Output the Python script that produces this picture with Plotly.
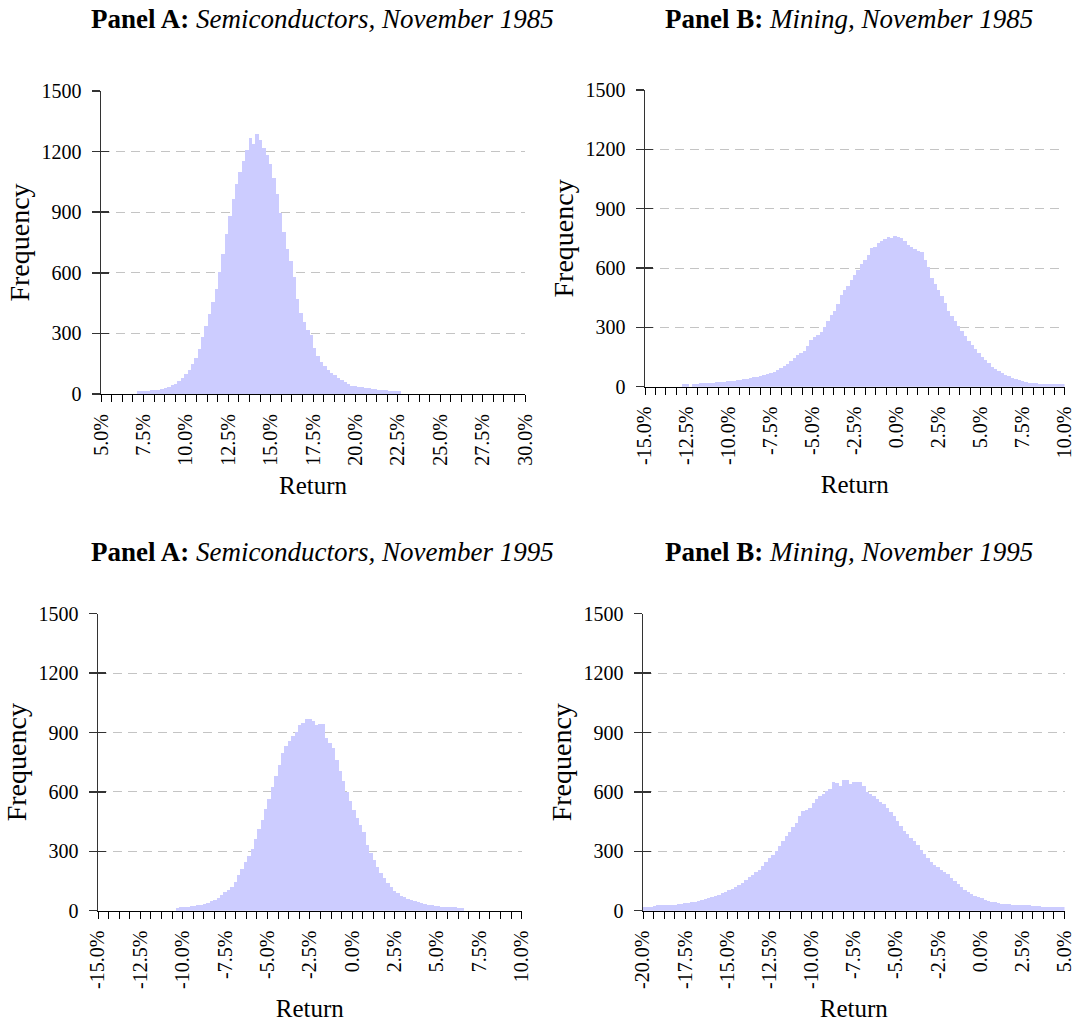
import plotly.graph_objects as go

# ---------------- data ----------------
BIN_WIDTH = 0.2  # return bin width, in %

# Panel A, Semiconductors, November 1985 : first bin left edge and counts
semi85_start = 7.1
semi85_counts = [14, 15, 16, 17, 18, 20, 22, 26, 32, 37,
                 43, 52, 63, 78, 98, 120, 148, 180, 225, 280,
                 335, 395, 455, 520, 605, 695, 790, 880, 965, 1040,
                 1100, 1155, 1210, 1265, 1240, 1285, 1255, 1220, 1185, 1140,
                 1070, 990, 895, 800, 720, 660, 580, 470, 400, 355,
                 315, 290, 230, 190, 160, 138, 118, 103, 92, 78,
                 68, 58, 48, 42, 38, 35, 33, 31, 28, 26,
                 24, 22, 20, 18, 16, 16, 15, 14]

# Panel B, Mining, November 1985
mining85_start = -12.8
mining85_counts = [15, 14, 0, 16, 16, 17, 17, 18, 19, 20,
                   22, 23, 25, 27, 29, 30, 32, 34, 37, 40,
                   43, 47, 51, 55, 60, 65, 70, 76, 85, 96,
                   105, 116, 130, 145, 158, 170, 180, 205, 238, 250,
                   262, 275, 300, 330, 360, 385, 420, 465, 490, 510,
                   540, 565, 590, 618, 640, 665, 700, 705, 725, 735,
                   748, 758, 752, 760, 758, 750, 735, 715, 705, 695,
                   685, 680, 640, 605, 550, 520, 490, 460, 425, 385,
                   355, 330, 305, 280, 255, 230, 210, 190, 170, 150,
                   135, 118, 100, 88, 78, 68, 60, 52, 45, 39,
                   34, 30, 25, 20, 18, 17, 16, 15, 15, 14,
                   14, 13, 13, 13]

# Panel A, Semiconductors, November 1995
semi95_start = -10.4
semi95_counts = [16, 17, 18, 20, 22, 24, 27, 31, 35, 41,
                 47, 55, 65, 78, 92, 105, 122, 145, 180, 210,
                 245, 275, 312, 360, 415, 460, 515, 565, 625, 680,
                 735, 795, 830, 855, 880, 905, 940, 948, 970, 968,
                 960, 938, 945, 945, 870, 845, 820, 760, 705, 655,
                 600, 555, 510, 470, 435, 400, 330, 290, 255, 220,
                 190, 165, 140, 118, 100, 88, 76, 68, 60, 53,
                 47, 42, 37, 33, 30, 27, 25, 22, 20, 19,
                 18, 17, 17, 16, 16]

# Panel B, Mining, November 1995
mining95_start = -20.0
mining95_counts = [20, 20, 21, 22, 28, 29, 27, 28, 29, 30,
                   33, 35, 37, 39, 42, 46, 50, 55, 60, 64,
                   68, 73, 80, 89, 96, 103, 112, 120, 130, 142,
                   155, 170, 182, 194, 205, 225, 248, 265, 282, 300,
                   325, 352, 378, 400, 425, 445, 480, 503, 510, 520,
                   545, 565, 578, 590, 603, 615, 648, 645, 631, 662,
                   660, 642, 650, 652, 648, 630, 600, 590, 578, 565,
                   550, 538, 520, 500, 480, 455, 430, 405, 385, 365,
                   350, 330, 305, 285, 265, 248, 232, 220, 208, 197,
                   183, 165, 148, 133, 118, 105, 95, 85, 76, 70,
                   62, 55, 50, 45, 42, 39, 36, 34, 32, 31,
                   30, 29, 28, 27, 27, 26, 25, 25, 21, 20,
                   20, 20, 20, 19, 19]

# tick values / labels
semi85_ticks = [5.0, 7.5, 10.0, 12.5, 15.0, 17.5, 20.0, 22.5, 25.0, 27.5, 30.0]
semi85_ticklabels = ["5.0%", "7.5%", "10.0%", "12.5%", "15.0%", "17.5%",
                     "20.0%", "22.5%", "25.0%", "27.5%", "30.0%"]
mid_ticks = [-15.0, -12.5, -10.0, -7.5, -5.0, -2.5, 0.0, 2.5, 5.0, 7.5, 10.0]
mid_ticklabels = ["-15.0%", "-12.5%", "-10.0%", "-7.5%", "-5.0%", "-2.5%",
                  "0.0%", "2.5%", "5.0%", "7.5%", "10.0%"]
mining95_ticks = [-20.0, -17.5, -15.0, -12.5, -10.0, -7.5, -5.0, -2.5, 0.0, 2.5, 5.0]
mining95_ticklabels = ["-20.0%", "-17.5%", "-15.0%", "-12.5%", "-10.0%", "-7.5%",
                       "-5.0%", "-2.5%", "0.0%", "2.5%", "5.0%"]
freq_ticks = [0, 300, 600, 900, 1200, 1500]
freq_ticklabels = ["0", "300", "600", "900", "1200", "1500"]

panel_titles = ["<b>Panel A:</b> <i>Semiconductors, November 1985</i>",
                "<b>Panel B:</b> <i>Mining, November 1985</i>",
                "<b>Panel A:</b> <i>Semiconductors, November 1995</i>",
                "<b>Panel B:</b> <i>Mining, November 1995</i>"]

# ---------------- layout helpers ----------------
W, H = 1074, 1024
FONT = "Liberation Serif"
BAR_COLOR = "#CCCCFF"


def xdom(a, b):
    return [a / W, b / W]


def ydom(top, bottom):
    return [1 - bottom / H, 1 - top / H]


panels = [
    dict(start=semi85_start, counts=semi85_counts, ticks=semi85_ticks, labels=semi85_ticklabels,
         xd=xdom(101, 525), yd=ydom(91, 394), tx=322, ty=19),
    dict(start=mining85_start, counts=mining85_counts, ticks=mid_ticks, labels=mid_ticklabels,
         xd=xdom(645, 1064.5), yd=ydom(90, 386.7), tx=849, ty=19),
    dict(start=semi95_start, counts=semi95_counts, ticks=mid_ticks, labels=mid_ticklabels,
         xd=xdom(98, 521.7), yd=ydom(613.7, 910.7), tx=322, ty=552),
    dict(start=mining95_start, counts=mining95_counts, ticks=mining95_ticks, labels=mining95_ticklabels,
         xd=xdom(643, 1064.5), yd=ydom(613.7, 910.7), tx=849, ty=552),
]

fig = go.Figure()
layout = dict(
    width=W, height=H,
    margin=dict(l=0, r=0, t=0, b=0, autoexpand=False),
    paper_bgcolor="white", plot_bgcolor="white",
    showlegend=False, bargap=0,
    font=dict(family=FONT, size=20, color="black"),
    annotations=[],
)

for i, p in enumerate(panels):
    k = i + 1
    xs = "x" if k == 1 else f"x{k}"
    ys = "y" if k == 1 else f"y{k}"
    yo = f"y{k + 4}"
    fig.add_trace(go.Bar(
        x0=p["start"] + BIN_WIDTH / 2, dx=BIN_WIDTH, y=p["counts"],
        marker=dict(color=BAR_COLOR, line=dict(width=0)),
        xaxis=xs, yaxis=ys, hoverinfo="skip",
    ))
    fig.add_trace(go.Scatter(x=[], y=[], xaxis=xs, yaxis=yo, showlegend=False, hoverinfo="skip"))

    layout[f"xaxis{k if k > 1 else ''}"] = dict(
        domain=p["xd"], anchor=ys, range=[p["ticks"][0], p["ticks"][-1]],
        automargin=False, ticklabeloverflow="allow",
        tickmode="array", tickvals=p["ticks"], ticktext=p["labels"], tickangle=-90,
        ticks="outside", ticklen=7, tickcolor="black", tickwidth=1,
        ticklabelstandoff=4,
        showline=True, linecolor="black", linewidth=1,
        showgrid=False, zeroline=False,
        minor=dict(tickmode="linear", tick0=p["ticks"][0], dtick=0.625, ticks="outside",
                   ticklen=7, tickcolor="black", tickwidth=1, showgrid=False),
        tickfont=dict(family=FONT, size=20, color="black"),
        title=dict(text="Return", font=dict(family=FONT, size=25, color="black"), standoff=11),
        fixedrange=True,
    )
    layout[f"yaxis{k if k > 1 else ''}"] = dict(
        domain=p["yd"], anchor=xs, range=[0, 1500],
        automargin=False, ticklabeloverflow="allow",
        tickmode="array", tickvals=freq_ticks, ticktext=freq_ticklabels,
        ticks="outside", ticklen=8, tickcolor="#333333", tickwidth=1.5,
        ticklabelstandoff=6,
        showline=True, linecolor="#333333", linewidth=1.5,
        showgrid=True, gridcolor="#C4C4C4", griddash="9px,6px", gridwidth=1,
        zeroline=False,
        tickfont=dict(family=FONT, size=20, color="black"),
        title=dict(text="Frequency", font=dict(family=FONT, size=28, color="black"), standoff=3),
        fixedrange=True,
    )
    layout[f"yaxis{k + 4}"] = dict(
        overlaying=ys, anchor=xs, range=[0, 1500],
        automargin=False,
        tickmode="array", tickvals=freq_ticks,
        ticks="inside", ticklen=8, tickcolor="#333333", tickwidth=1.5,
        showticklabels=False, showline=False, showgrid=False, zeroline=False,
        fixedrange=True,
    )
    layout["annotations"].append(dict(
        text=panel_titles[i], xref="paper", yref="paper",
        x=p["tx"] / W, y=1 - p["ty"] / H, xanchor="center", yanchor="middle",
        showarrow=False, font=dict(family=FONT, size=27, color="black"),
    ))

fig.update_layout(**layout)
fig.write_html("out.html",
               config={"displayModeBar": False, "staticPlot": True},
               post_script="document.body.style.margin='0px';document.body.style.overflow='hidden';")
